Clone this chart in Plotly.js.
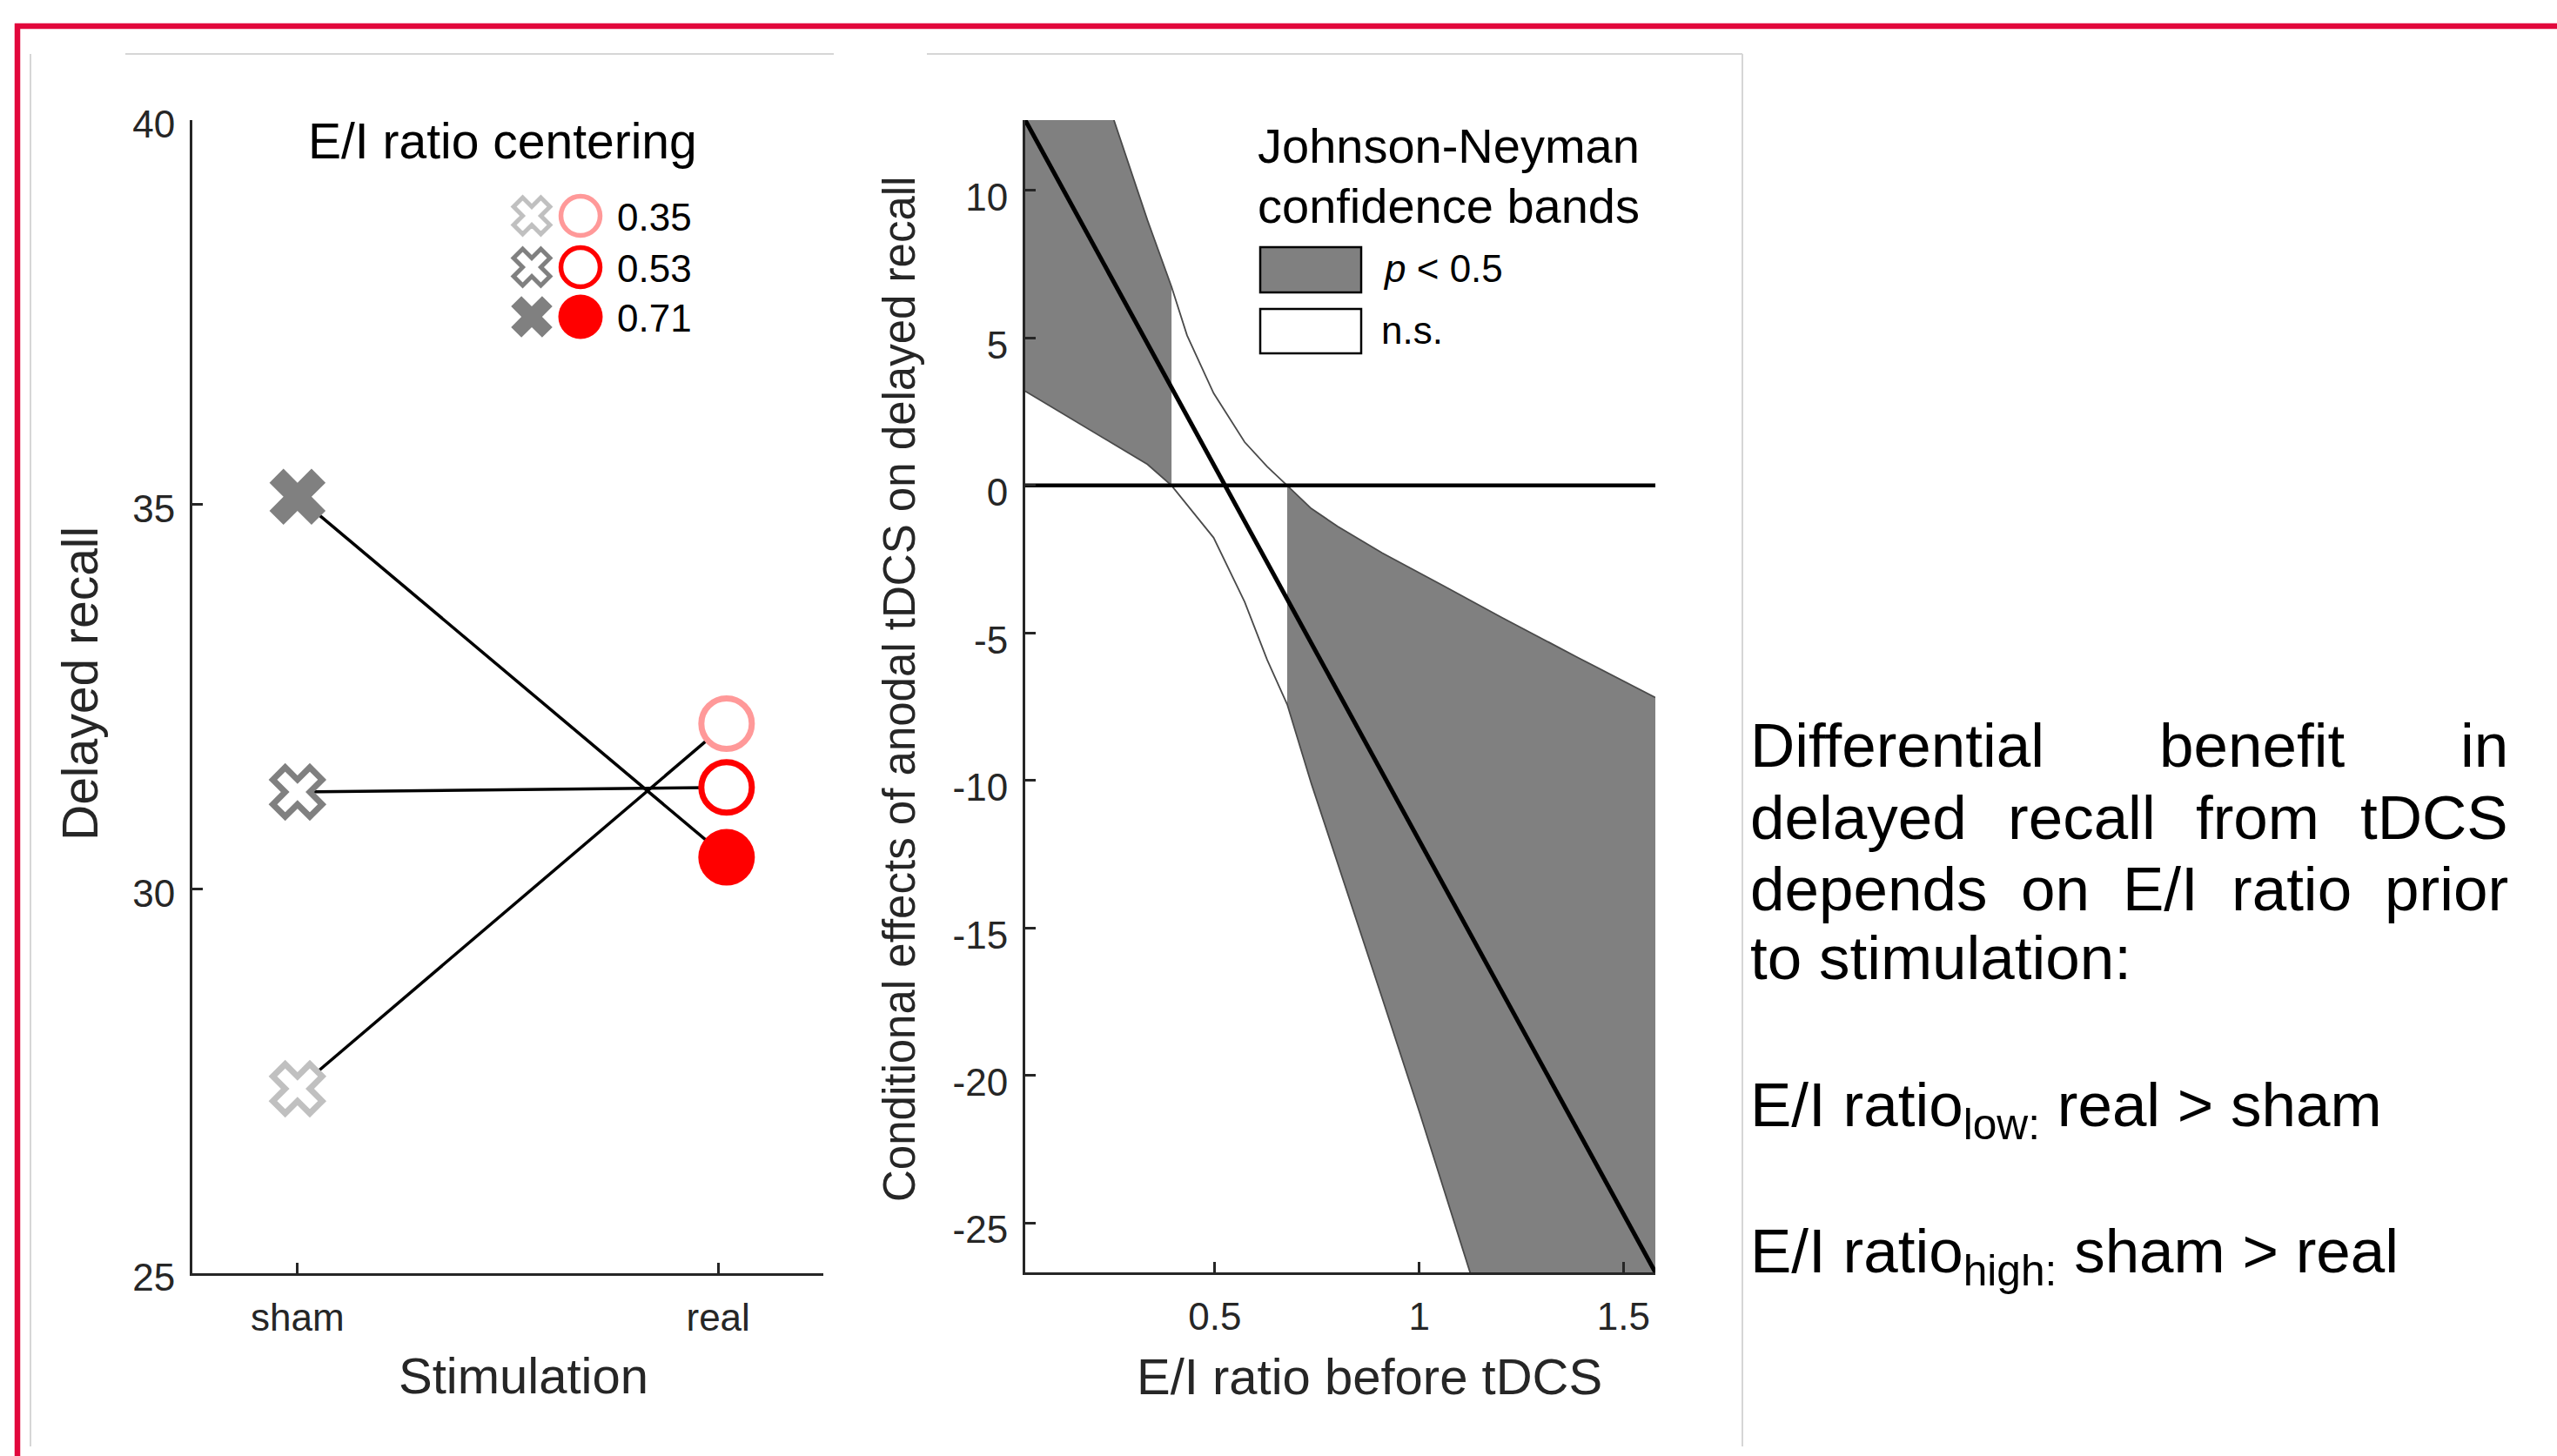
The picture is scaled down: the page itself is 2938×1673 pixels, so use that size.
<!DOCTYPE html>
<html><head><meta charset="utf-8">
<script src="https://cdn.plot.ly/plotly-3.0.1.min.js"></script>
<style>html,body{margin:0;padding:0;background:#fff;} #chart{width:2938px;height:1673px;}</style>
</head><body><div id="chart"></div>
<script>
// ---------------- data ----------------
const stimulation = ['sham', 'real'];
const stimX = [1, 2.02];
const eiCentering = ['0.35', '0.53', '0.71'];
const recallSham = [27.4, 31.26, 35.1];
const recallReal = [32.15, 31.32, 30.41];
const leftYTicks = [25, 30, 35, 40];

const eiBefore = [0.036, 1.578];
const condEffect = [12.39, -26.68];
const bandUpperX = [0.036, 0.15, 0.253, 0.335, 0.394, 0.432, 0.497, 0.573, 0.628, 0.677, 0.736, 0.801, 0.910, 1.062, 1.203, 1.388, 1.578];
const bandUpperY = [21.5, 16.7, 12.39, 9.0, 6.74, 5.09, 3.13, 1.47, 0.64, 0.0, -0.78, -1.39, -2.29, -3.42, -4.48, -5.83, -7.19];
const bandLowerX = [0.036, 0.172, 0.264, 0.335, 0.394, 0.422, 0.497, 0.573, 0.628, 0.677, 0.736, 0.910, 1.002, 1.125, 1.35, 1.578];
const bandLowerY = [3.20, 2.07, 1.32, 0.72, 0.0, -0.49, -1.77, -3.95, -5.91, -7.42, -10.1, -17.4, -21.3, -26.7, -36.3, -46.2];
const jnBounds = [0.394, 0.677];
const rightXTicks = [0.5, 1, 1.5];
const rightXTickText = ['0.5', '1', '1.5'];
const rightYTicks = [-25, -20, -15, -10, -5, 0, 5, 10];
const rightYTickText = ['-25', '-20', '-15', '-10', '-5', '0', '5', '10'];

const textLines = [
  ['Differential', 'benefit', 'in'],
  ['delayed', 'recall', 'from', 'tDCS'],
  ['depends', 'on', 'E/I', 'ratio', 'prior'],
  ['to stimulation:']
];
const contrastLines = ['E/I ratio<sub>low:</sub> real &gt; sham', 'E/I ratio<sub>high:</sub> sham &gt; real'];

// ---------------- layout helpers ----------------
const W = 2938, H = 1673;
const FONT = '"Liberation Sans", Arial, Helvetica, sans-serif';
const AX = '#262626';
const px = v => v / W;
const py = v => 1 - v / H;

const shamFill = ['#FFFFFF', '#FFFFFF', '#808080'];
const shamLine = ['#C0C0C0', '#808080', '#808080'];
const realFill = ['#FFFFFF', '#FFFFFF', '#FF0000'];
const realLine = ['#FF9999', '#FF0000', '#FF0000'];

const traces = [];
// left panel lines
for (let i = 0; i < 3; i++) {
  traces.push({x: stimX, y: [recallSham[i], recallReal[i]], mode: 'lines', xaxis: 'x', yaxis: 'y',
    line: {color: '#000', width: 3.5}, hoverinfo: 'skip', showlegend: false});
}
traces.push({x: recallSham.map(() => stimX[0]), y: recallSham, mode: 'markers', xaxis: 'x', yaxis: 'y', showlegend: false,
  marker: {symbol: 'x', opacity: 1, size: [50, 50, 57], color: shamFill, line: {color: shamLine, width: [7, 7, 0]}}});
traces.push({x: recallReal.map(() => stimX[1]), y: recallReal, mode: 'markers', xaxis: 'x', yaxis: 'y', showlegend: false,
  marker: {symbol: 'circle', opacity: 1, size: [58, 58, 65], color: realFill, line: {color: realLine, width: [7, 7, 0]}}});

// right panel: significance regions
function region(keep) {
  const ux = [], uy = [], lx = [], ly = [];
  bandUpperX.forEach((x, i) => { if (keep(x)) { ux.push(x); uy.push(bandUpperY[i]); } });
  bandLowerX.forEach((x, i) => { if (keep(x)) { lx.push(x); ly.push(bandLowerY[i]); } });
  return {x: ux.concat(lx.slice().reverse()), y: uy.concat(ly.slice().reverse())};
}
const regL = region(x => x <= jnBounds[0] + 1e-9);
const regR = region(x => x >= jnBounds[1] - 1e-9);
[regL, regR].forEach(r => traces.push({x: r.x, y: r.y, mode: 'lines', fill: 'toself', fillcolor: '#808080',
  line: {width: 0}, xaxis: 'x2', yaxis: 'y2', showlegend: false, hoverinfo: 'skip'}));
traces.push({x: bandUpperX, y: bandUpperY, mode: 'lines', line: {color: '#4a4a4a', width: 1.8}, xaxis: 'x2', yaxis: 'y2', showlegend: false});
traces.push({x: bandLowerX, y: bandLowerY, mode: 'lines', line: {color: '#4a4a4a', width: 1.8}, xaxis: 'x2', yaxis: 'y2', showlegend: false});
traces.push({x: eiBefore, y: [0, 0], mode: 'lines', line: {color: '#000', width: 4.5}, xaxis: 'x2', yaxis: 'y2', showlegend: false});
traces.push({x: eiBefore, y: condEffect, mode: 'lines', line: {color: '#000', width: 5}, xaxis: 'x2', yaxis: 'y2', showlegend: false});

// custom legend glyphs (pixel overlay axis)
const legRows = [248, 307, 364];
traces.push({x: legRows.map(() => 611), y: legRows, mode: 'markers', xaxis: 'x3', yaxis: 'y3', showlegend: false, cliponaxis: false,
  marker: {symbol: 'x', opacity: 1, size: [37, 37, 42], color: shamFill, line: {color: shamLine, width: [5, 5, 0]}}});
traces.push({x: legRows.map(() => 667), y: legRows, mode: 'markers', xaxis: 'x3', yaxis: 'y3', showlegend: false, cliponaxis: false,
  marker: {symbol: 'circle', opacity: 1, size: [45, 45, 51], color: realFill, line: {color: realLine, width: [5.5, 5.5, 0]}}});

// ---------------- annotations ----------------
const ann = [];
function txt(t, x, baseline, size, xanchor, extra) {
  ann.push(Object.assign({text: t, xref: 'paper', yref: 'paper', x: px(x), y: py(baseline - 0.905 * size - 2),
    xanchor: xanchor || 'left', yanchor: 'top', showarrow: false, font: {family: FONT, size: size, color: '#000'}}, extra || {}));
}
txt('E/I ratio centering', 577, 182, 57, 'center');
eiCentering.forEach((t, i) => txt(t, 707, [265, 324, 381][i], 44, 'left'));
txt('Johnson-Neyman', 1443, 187, 56, 'left');
txt('confidence bands', 1443, 256, 56, 'left');
txt('<i>p</i> &lt; 0.5', 1587, 324, 44, 'left');
txt('n.s.', 1585, 395, 44, 'left');

// axis titles
function midTxt(t, x, y, size, angle) {
  ann.push({text: t, xref: 'paper', yref: 'paper', x: px(x), y: py(y), xanchor: 'center', yanchor: 'middle',
    textangle: angle || 0, showarrow: false, font: {family: FONT, size: size, color: AX}});
}
midTxt('Delayed recall', 92, 786, 57, -90);
midTxt('Stimulation', 601, 1580, 58);
midTxt('Conditional effects of anodal tDCS on delayed recall', 1033, 792, 51, -90);
midTxt('E/I ratio before tDCS', 1573, 1581, 58);

// justified text block
const ctx = document.createElement('canvas').getContext('2d');
const TS = 71;
ctx.font = TS + 'px "Liberation Sans"';
const TL = 2011, TR = 2882;
const baselines = [881, 964, 1046, 1125];
textLines.forEach((words, li) => {
  if (words.length === 1) { txt(words[0], TL - 2, baselines[li], TS, 'left'); return; }
  const widths = words.map(w => ctx.measureText(w).width);
  const gap = (TR - TL - widths.reduce((a, b) => a + b, 0)) / (words.length - 1);
  let x = TL;
  words.forEach((w, k) => { txt(w, x - 2, baselines[li], TS, 'left'); x += widths[k] + gap; });
});
txt(contrastLines[0], TL - 2, 1294, TS, 'left');
txt(contrastLines[1], TL - 2, 1462, TS, 'left');

// ---------------- shapes ----------------
const shapes = [
  {type: 'line', xref: 'paper', yref: 'paper', x0: px(17), x1: px(W), y0: py(30), y1: py(30), line: {color: '#E2073C', width: 6.5}},
  {type: 'line', xref: 'paper', yref: 'paper', x0: px(20), x1: px(20), y0: py(27), y1: py(H), line: {color: '#E2073C', width: 6.5}},
  {type: 'line', xref: 'paper', yref: 'paper', x0: px(144), x1: px(958), y0: py(62), y1: py(62), line: {color: '#D6D6D6', width: 2}},
  {type: 'line', xref: 'paper', yref: 'paper', x0: px(35), x1: px(35), y0: py(62), y1: py(1662), line: {color: '#D6D6D6', width: 2}},
  {type: 'line', xref: 'paper', yref: 'paper', x0: px(1065), x1: px(2002), y0: py(62), y1: py(62), line: {color: '#D6D6D6', width: 2}},
  {type: 'line', xref: 'paper', yref: 'paper', x0: px(2002), x1: px(2002), y0: py(62), y1: py(1662), line: {color: '#D6D6D6', width: 2}},
  {type: 'rect', xref: 'paper', yref: 'paper', x0: px(1448), x1: px(1564), y0: py(284), y1: py(336), fillcolor: '#808080', line: {color: '#000', width: 2.5}},
  {type: 'rect', xref: 'paper', yref: 'paper', x0: px(1448), x1: px(1564), y0: py(355), y1: py(406), fillcolor: '#FFFFFF', line: {color: '#000', width: 2.5}}
];

const axBase = {showline: true, linecolor: AX, linewidth: 3, ticks: 'inside', ticklen: 12, tickwidth: 3, tickcolor: AX,
  showgrid: false, zeroline: false, tickfont: {family: FONT, size: 44, color: AX}, fixedrange: true};

const layout = {
  width: W, height: H, margin: {l: 0, r: 0, t: 0, b: 0, pad: 0},
  paper_bgcolor: '#FFFFFF', plot_bgcolor: 'rgba(0,0,0,0)', showlegend: false,
  xaxis: Object.assign({}, axBase, {domain: [px(221), px(946)], range: [0.75, 2.25], tickmode: 'array', tickvals: [1, 2], ticktext: stimulation, anchor: 'y', ticklabelstandoff: 10}),
  yaxis: Object.assign({}, axBase, {domain: [py(1463), py(138)], range: [25, 40], tickmode: 'array', tickvals: leftYTicks, anchor: 'x', ticklabelstandoff: 8, ticklabelshift: 5}),
  xaxis2: Object.assign({}, axBase, {domain: [px(1178), px(1902)], range: eiBefore, tickmode: 'array', tickvals: rightXTicks, ticktext: rightXTickText, anchor: 'y2', ticklabelstandoff: 10}),
  yaxis2: Object.assign({}, axBase, {domain: [py(1462), py(138)], range: [condEffect[1], condEffect[0]], tickmode: 'array', tickvals: rightYTicks, ticktext: rightYTickText, anchor: 'x2', ticklabelstandoff: 8, ticklabelshift: 8}),
  xaxis3: {domain: [0, 1], range: [0, W], visible: false, anchor: 'y3', fixedrange: true},
  yaxis3: {domain: [0, 1], range: [H, 0], visible: false, anchor: 'x3', fixedrange: true},
  annotations: ann, shapes: shapes
};

Plotly.newPlot('chart', traces, layout, {staticPlot: true, displayModeBar: false});
</script></body></html>
